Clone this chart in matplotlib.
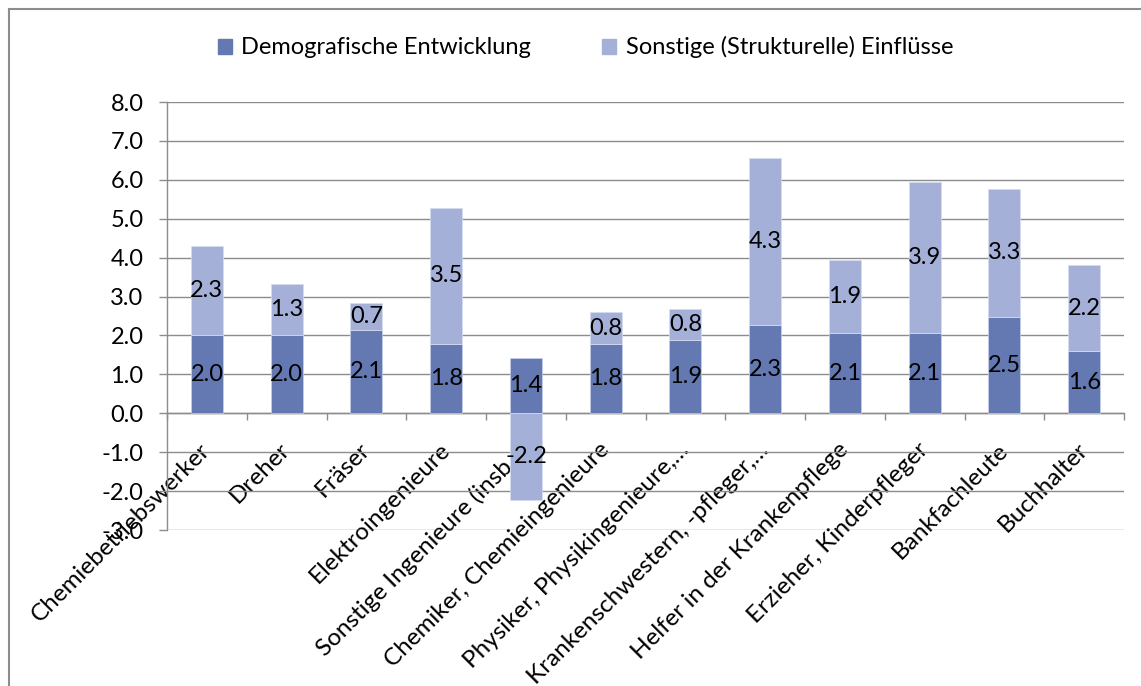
import numpy as np
import matplotlib.pyplot as plt
from matplotlib.lines import Line2D

plt.rcParams['font.family'] = ['Lato', 'DejaVu Sans']

# Data
categories = ['Chemiebetriebswerker', 'Dreher', 'Fräser', 'Elektroingenieure',
              'Sonstige Ingenieure (insb.…', 'Chemiker, Chemieingenieure',
              'Physiker, Physikingenieure,…', 'Krankenschwestern, -pfleger,…',
              'Helfer in der Krankenpflege', 'Erzieher, Kinderpfleger',
              'Bankfachleute', 'Buchhalter']
demografisch = [2.0, 2.0, 2.13, 1.78, 1.42, 1.78, 1.88, 2.27, 2.07, 2.07, 2.48, 1.6]
sonstige = [2.3, 1.33, 0.7, 3.5, -2.23, 0.82, 0.8, 4.3, 1.87, 3.88, 3.29, 2.2]
series_names = ['Demografische Entwicklung', 'Sonstige (Strukturelle) Einflüsse']
yticks = np.arange(-3, 9, 1)

c_demo = '#6479B1'
c_sonst = '#A4B0D8'
grid_c = '#8C8C8C'

fig = plt.figure(figsize=(11.41, 6.86), dpi=100)
ax = fig.add_axes([0.1464, 0.2274, 0.8387, 0.6239])

x = np.arange(len(categories))
demo = np.array(demografisch)
sonst = np.array(sonstige)
bottom2 = np.where(sonst >= 0, demo, 0)

b1 = ax.bar(x, demo, width=0.4, color=c_demo, edgecolor='#C9D1EA', linewidth=0.5, zorder=3)
b2 = ax.bar(x, sonst, width=0.4, bottom=bottom2, color=c_sonst, edgecolor='#D8DEF0',
            linewidth=0.5, zorder=3)
ax.bar_label(b1, labels=[f'{v:.1f}' for v in demo], label_type='center', fontsize=17, zorder=4)
ax.bar_label(b2, labels=[f'{v:.1f}' for v in sonst], label_type='center', fontsize=17, zorder=4)

ax.set_xlim(-0.5, len(categories) - 0.5)
ax.set_ylim(-3, 8)
ax.set_yticks(yticks)
ax.set_yticklabels([f'{v:.1f}' for v in yticks], fontsize=17)
ax.yaxis.grid(True, color=grid_c, linewidth=1.0, zorder=0)
ax.tick_params(axis='y', length=6, width=1.0, color=grid_c, pad=11)

# category axis sits at zero
ax.spines['bottom'].set_position(('data', 0))
for s in ['top', 'right']:
    ax.spines[s].set_visible(False)
ax.spines['left'].set_color(grid_c)
ax.spines['bottom'].set_color(grid_c)
ax.spines['left'].set_linewidth(1.0)
ax.spines['bottom'].set_linewidth(1.0)

ax.set_xticks(np.arange(len(categories) + 1) - 0.5)
ax.set_xticklabels([])
ax.tick_params(axis='x', which='major', length=5, width=1.0, color=grid_c, direction='out')
ax.set_xticks(x, minor=True)
ax.set_xticklabels(categories, minor=True, rotation=45, ha='right', va='center',
                   rotation_mode='anchor', fontsize=17.5)
ax.tick_params(axis='x', which='minor', length=0, pad=24)

# legend
handles = [plt.Rectangle((0, 0), 1, 1, color=c_demo), plt.Rectangle((0, 0), 1, 1, color=c_sonst)]
fig.legend(handles, series_names, loc='center', bbox_to_anchor=(0.513, 0.931), ncol=2,
           frameon=False, fontsize=17, handlelength=0.6, handleheight=0.6,
           handletextpad=0.4, columnspacing=3.0)

# chart area border (top and left visible)
fig.add_artist(Line2D([9 / 1141, 1], [1 - 9 / 686, 1 - 9 / 686], color='#8C8C8C', linewidth=1.5))
fig.add_artist(Line2D([9 / 1141, 9 / 1141], [0, 1 - 9 / 686], color='#8C8C8C', linewidth=1.5))

fig.savefig('out.png', dpi=100)
